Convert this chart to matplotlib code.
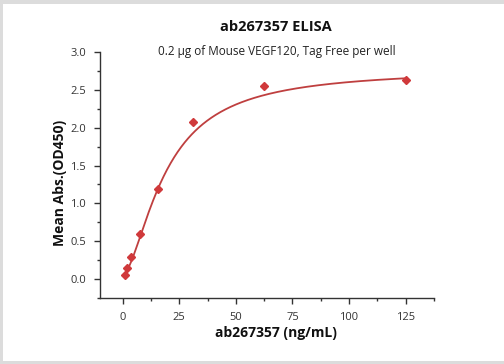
import numpy as np
import matplotlib
matplotlib.use("Agg")
import matplotlib.pyplot as plt
from matplotlib.patches import Rectangle
from matplotlib.ticker import MultipleLocator

plt.rcParams['font.family'] = ['Open Sans', 'DejaVu Sans']

conc = [125, 62.5, 31.25, 15.625, 7.8125, 3.90625, 1.953125, 0.9765625]
od = [2.63, 2.55, 2.08, 1.19, 0.59, 0.29, 0.15, 0.06]
x_ticks = [0, 25, 50, 75, 100, 125]
y_ticks = [0.0, 0.5, 1.0, 1.5, 2.0, 2.5, 3.0]

# 4-parameter logistic fit parameters (as shown by the reference fit curve)
fit_bottom = 0.047
fit_top = 2.775
fit_slope = 1.625
fit_ec50 = 19.0

xs = np.linspace(min(conc), max(conc), 400)
ys = fit_top + (fit_bottom - fit_top) / (1 + (xs / fit_ec50) ** fit_slope)

fig = plt.figure(figsize=(5.04, 3.64), dpi=100)
ax = fig.add_axes([100/504, 1-298/364, 334/504, 246/364])
ax.plot(xs, ys, color='#bf3f3f', lw=1.3, zorder=2)
ax.plot(conc, od, linestyle='none', marker='D', ms=4.2, color='#d0393b', zorder=3)

ax.set_xlim(-10, 137.5)
ax.set_ylim(-0.25, 3.0)
ax.set_xticks(x_ticks)
ax.set_yticks(y_ticks)
ax.set_yticklabels([f"{v:.1f}" for v in y_ticks])
ax.xaxis.set_minor_locator(MultipleLocator(12.5))
ax.yaxis.set_minor_locator(MultipleLocator(0.25))
for s in ['top', 'right']:
    ax.spines[s].set_visible(False)
for s in ['left', 'bottom']:
    ax.spines[s].set_color('#333333')
    ax.spines[s].set_linewidth(1.0)
ax.tick_params(which='major', length=4, width=1, color='#333333', labelsize=8, labelcolor='#333333', pad=6)
ax.tick_params(which='minor', length=2.5, width=1, color='#333333')

fig.text(276/504, 1-27/364, 'ab267357 ELISA', ha='center', va='center', fontsize=10.5, fontweight='bold', color='#111111')
fig.text(277/504, 1-51/364, '0.2 µg of Mouse VEGF120, Tag Free per well', ha='center', va='center', fontsize=8.5, color='#222222')
fig.text(276/504, 1-333/364, 'ab267357 (ng/mL)', ha='center', va='center', fontsize=10, fontweight='bold', color='#111111')
fig.text(60/504, 1-183/364, 'Mean Abs.(OD450)', ha='center', va='center', rotation=90, fontsize=10, fontweight='bold', color='#111111')

border = '#dcdcdc'
for rect in [(0, 1-4/364, 1, 4/364), (0, 0, 1, 3/364), (0, 0, 3/504, 1)]:
    fig.patches.append(Rectangle(rect[:2], rect[2], rect[3], transform=fig.transFigure,
                                 facecolor=border, edgecolor='none', zorder=10))

fig.savefig('out.png', dpi=100)
